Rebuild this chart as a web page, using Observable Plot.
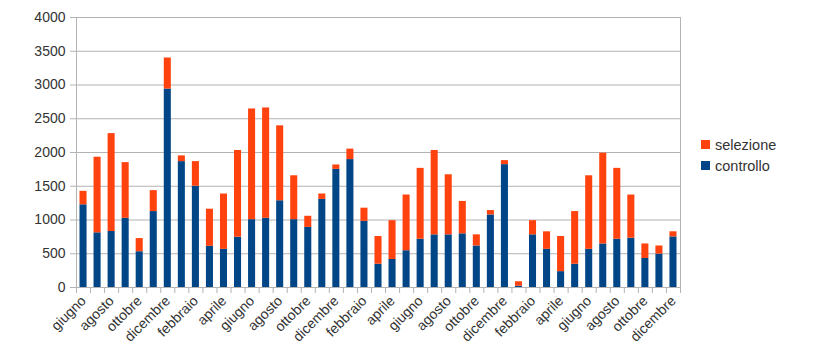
<!DOCTYPE html>
<html><head><meta charset="utf-8">
<script src="https://cdn.jsdelivr.net/npm/d3@7"></script>
<script src="https://cdn.jsdelivr.net/npm/@observablehq/plot@0.6"></script>
<style>
body{margin:0;background:#fff;font-family:"Liberation Sans",Arial,sans-serif;}
#wrap{position:relative;width:820px;height:356px;overflow:hidden}
#legend{position:absolute;left:701px;top:134px;font-size:14.5px;color:#333;}
.row{display:flex;align-items:center;height:21px}
.sw{width:9px;height:9px;margin-right:5px}
</style></head><body><div id="wrap"><div id="chart"></div><div id="legend"></div></div>
<script>
const months = ["giugno","luglio","agosto","settembre","ottobre","novembre","dicembre",
  "gennaio","febbraio","marzo","aprile","maggio","giugno","luglio","agosto","settembre","ottobre","novembre","dicembre",
  "gennaio","febbraio","marzo","aprile","maggio","giugno","luglio","agosto","settembre","ottobre","novembre","dicembre",
  "gennaio","febbraio","marzo","aprile","maggio","giugno","luglio","agosto","settembre","ottobre","novembre","dicembre"];
const controllo = [1225,810,830,1025,530,1125,2940,
  1865,1500,610,565,745,1005,1025,1285,1005,890,1305,1750,
  1895,980,345,415,545,715,780,780,795,615,1075,1820,
  20,780,565,235,345,565,645,715,730,430,495,750];
const selezione = [200,1120,1450,825,195,310,460,
  85,365,550,820,1285,1640,1635,1110,650,165,80,65,
  155,195,410,575,825,1050,1250,890,480,165,65,60,
  65,210,260,520,780,1090,1345,1050,640,215,120,75];
const seriesNames = ["controllo","selezione"];
const seriesColors = ["#004586","#ff420e"];
const yTicks = [0,500,1000,1500,2000,2500,3000,3500,4000];

const rows = [];
months.forEach((m,i)=>{
  rows.push({i, serie:"controllo", v:controllo[i]});
  rows.push({i, serie:"selezione", v:selezione[i]});
});
const n = months.length;
const boundaries = d3.range(0, n+1);
const labelPos = d3.range(0, n, 2).map(i=>i+0.5);

const chart = Plot.plot({
  width:820, height:356,
  marginLeft:76, marginRight:140, marginTop:17, marginBottom:69,
  style:{fontFamily:"'Liberation Sans', Arial, sans-serif", background:"#fff"},
  x:{domain:[0,n], axis:null},
  y:{domain:[0,4000], axis:null},
  color:{domain:seriesNames, range:seriesColors},
  marks:[
    Plot.gridY(yTicks, {stroke:"#b3b3b3", strokeOpacity:1, strokeWidth:1}),
    Plot.frame({stroke:"#b3b3b3"}),
    Plot.rectY(rows, Plot.stackY({x1:"i", x2:d=>d.i+1, y:"v", fill:"serie", order:seriesNames, insetLeft:3.5, insetRight:3.5})),
    Plot.axisY(yTicks, {tickSize:6, tickPadding:5, stroke:"#b3b3b3", fill:"#333", fontSize:14, tickFormat:d=>String(d), label:null}),
    Plot.axisX(boundaries, {tickSize:6, stroke:"#b3b3b3", tickFormat:()=>"", label:null}),
    Plot.axisX(labelPos, {tickSize:0, tickPadding:11, tickRotate:-45, fill:"#333", fontSize:14, tickFormat:d=>months[d-0.5], label:null})
  ]
});
document.getElementById("chart").appendChild(chart);

const legend = document.getElementById("legend");
[...seriesNames].reverse().forEach(name=>{
  const r = document.createElement("div"); r.className="row";
  const s = document.createElement("div"); s.className="sw"; s.style.background = seriesColors[seriesNames.indexOf(name)];
  const t = document.createElement("span"); t.textContent = name;
  r.appendChild(s); r.appendChild(t); legend.appendChild(r);
});
</script></body></html>
